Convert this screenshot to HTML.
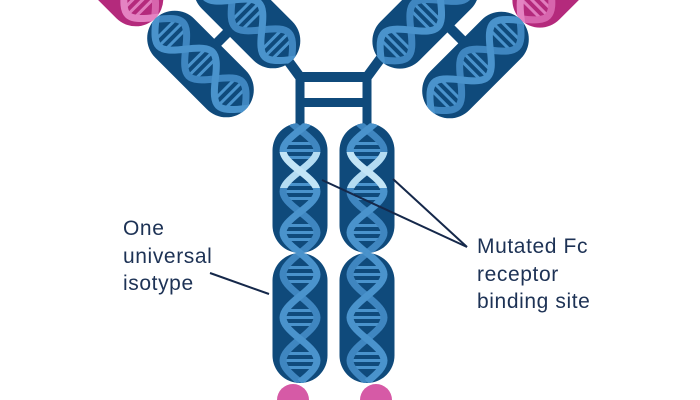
<!DOCTYPE html>
<html>
<head>
<meta charset="utf-8">
<style>
  html,body{margin:0;padding:0;background:#ffffff;}
  body{width:700px;height:400px;overflow:hidden;}
  svg{display:block;overflow:hidden;}
  .lbl{font-family:"Liberation Sans", sans-serif;font-size:21px;fill:#1d3255;letter-spacing:0.6px;}
</style>
</head>
<body>
<svg width="700" height="400" viewBox="0 0 700 400" xmlns="http://www.w3.org/2000/svg">
  <defs>
    <clipPath id="frame">
      <rect x="0" y="0" width="700" height="400"/>
    </clipPath>
    <clipPath id="colclip">
      <rect x="-27.5" y="123" width="55" height="130" rx="27.5"/>
      <rect x="-27.5" y="253" width="55" height="130" rx="27.5"/>
    </clipPath>
    <clipPath id="hlclip">
      <rect x="-30" y="152" width="60" height="36"/>
    </clipPath>
    <clipPath id="armclip">
      <rect x="-27.5" y="-64" width="55" height="128" rx="27.5"/>
    </clipPath>

    <path id="colA" d="M0,89 C22.67,106.4 22.67,112.6 0,130 C-22.67,147.4 -22.67,153.6 0,171 C22.67,188.4 22.67,194.6 0,212 C-22.67,229.4 -22.67,235.6 0,253 C22.67,271.2 22.67,277.8 0,296 C-22.67,314.2 -22.67,320.8 0,339 C22.67,357.2 22.67,363.8 0,382"/>
    <path id="colB" d="M0,89 C-22.67,106.4 -22.67,112.6 0,130 C22.67,147.4 22.67,153.6 0,171 C-22.67,188.4 -22.67,194.6 0,212 C22.67,229.4 22.67,235.6 0,253 C-22.67,271.2 -22.67,277.8 0,296 C22.67,314.2 22.67,320.8 0,339 C-22.67,357.2 -22.67,363.8 0,382"/>
    <path id="colR" d="M-14.7,143.5h29.4 M-17,150.5h34 M-14.7,157.5h29.4
      M-14.7,184.5h29.4 M-17,191.5h34 M-14.7,198.5h29.4
      M-14.7,225.5h29.4 M-17,232.5h34 M-14.7,239.5h29.4
      M-14.7,267.5h29.4 M-17,274.5h34 M-14.7,281.5h29.4
      M-14.7,310.5h29.4 M-17,317.5h34 M-14.7,324.5h29.4
      M-14.7,353.5h29.4 M-17,360.5h34 M-14.7,367.5h29.4"/>

    <g id="col">
      <rect x="-27.5" y="123" width="55" height="130" rx="27.5" fill="#0f4a7b"/>
      <rect x="-27.5" y="253" width="55" height="130" rx="27.5" fill="#0f4a7b"/>
      <g clip-path="url(#colclip)" fill="none">
        <use href="#colR" stroke="#4a93cc" stroke-width="3"/>
        <use href="#colB" stroke="#3f86c0" stroke-width="7"/>
        <use href="#colA" stroke="#4a93cc" stroke-width="7"/>
        <g clip-path="url(#hlclip)">
          <use href="#colB" stroke="#b4dcf2" stroke-width="7"/>
          <use href="#colA" stroke="#c3e5f6" stroke-width="7"/>
        </g>
      </g>
    </g>

    <path id="armA" d="M0,-105 C22.67,-87.2 22.67,-80.8 0,-63 C-22.67,-45.2 -22.67,-38.8 0,-21 C22.67,-3.2 22.67,3.2 0,21 C-22.67,38.8 -22.67,45.2 0,63 C22.67,80.8 22.67,87.2 0,105"/>
    <path id="armB" d="M0,-105 C-22.67,-87.2 -22.67,-80.8 0,-63 C22.67,-45.2 22.67,-38.8 0,-21 C-22.67,-3.2 -22.67,3.2 0,21 C22.67,38.8 22.67,45.2 0,63 C-22.67,80.8 -22.67,87.2 0,105"/>
    <path id="armR" d="M-14.7,-49h29.4 M-17,-42h34 M-14.7,-35h29.4
      M-14.7,-7h29.4 M-17,0h34 M-14.7,7h29.4
      M-14.7,35h29.4 M-17,42h34 M-14.7,49h29.4"/>

    <g id="arm">
      <rect x="-27.5" y="-64" width="55" height="128" rx="27.5" fill="#0f4a7b"/>
      <g clip-path="url(#armclip)" fill="none">
        <use href="#armR" stroke="#4a93cc" stroke-width="3"/>
        <use href="#armB" stroke="#3f86c0" stroke-width="7"/>
        <use href="#armA" stroke="#4a93cc" stroke-width="7"/>
      </g>
    </g>
    <g id="armpink">
      <rect x="-27.5" y="-64" width="55" height="128" rx="27.5" fill="#b42a7c"/>
      <g clip-path="url(#armclip)" fill="none">
        <use href="#armR" stroke="#e07cbd" stroke-width="3"/>
        <use href="#armB" stroke="#d765ad" stroke-width="7"/>
        <use href="#armA" stroke="#e483c2" stroke-width="7"/>
      </g>
    </g>
  </defs>

  <g clip-path="url(#frame)">
    <!-- connectors -->
    <g stroke="#0f4a7b" fill="none">
      <line x1="208" y1="52" x2="238" y2="22" stroke-width="10"/>
      <line x1="442" y1="20" x2="472" y2="50" stroke-width="10"/>
      <path d="M278,47 L300,77 L367,77 L389,47" stroke-width="10" stroke-linejoin="miter"/>
      <line x1="300" y1="77" x2="300" y2="135" stroke-width="9"/>
      <line x1="367" y1="77" x2="367" y2="135" stroke-width="9"/>
      <line x1="300" y1="102.5" x2="367" y2="102.5" stroke-width="9"/>
    </g>

    <!-- pink tips -->
    <use href="#armpink" transform="translate(110,-27) rotate(-45)"/>
    <use href="#armpink" transform="translate(565.7,-25.7) rotate(45)"/>

    <!-- arm pills -->
    <use href="#arm" transform="translate(200.5,64) rotate(-45)"/>
    <use href="#arm" transform="translate(247,15) rotate(-45)"/>
    <use href="#arm" transform="translate(475.5,65) rotate(45)"/>
    <use href="#arm" transform="translate(425.7,15.3) rotate(45)"/>

    <!-- vertical columns -->
    <use href="#col" transform="translate(300,0)"/>
    <use href="#col" transform="translate(367,0)"/>

    <!-- bottom pink half circles -->
    <path d="M277,400 A16,16 0 0 1 309,400 Z" fill="#d65aa6"/>
    <path d="M360,400 A16,16 0 0 1 392,400 Z" fill="#d65aa6"/>

    <!-- leader lines -->
    <g stroke="#15284a" stroke-width="2" fill="none">
      <line x1="210" y1="273" x2="269" y2="294"/>
      <line x1="467" y1="247" x2="322" y2="180"/>
      <line x1="467" y1="247" x2="393" y2="179"/>
    </g>
  </g>

  <!-- labels -->
  <text class="lbl" x="123" y="235">One</text>
  <text class="lbl" x="123" y="263">universal</text>
  <text class="lbl" x="123" y="290">isotype</text>

  <text class="lbl" x="477" y="253">Mutated Fc</text>
  <text class="lbl" x="477" y="281">receptor</text>
  <text class="lbl" x="477" y="308">binding site</text>
</svg>
</body>
</html>
